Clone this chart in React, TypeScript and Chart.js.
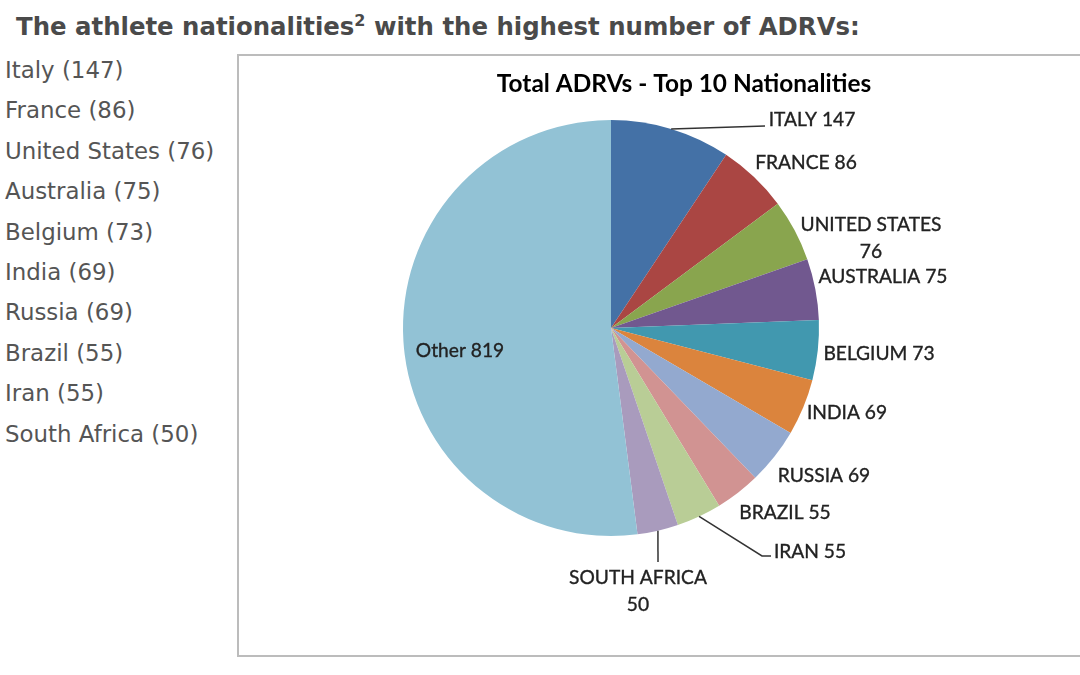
import { useEffect, useRef } from "react";
import { Chart, registerables, type Plugin } from "chart.js";

Chart.register(...registerables);

const HEADING_BEFORE = "The athlete nationalities";
const HEADING_AFTER = " with the highest number of ADRVs:";
const CHART_TITLE = "Total ADRVs - Top 10 Nationalities";

const CATEGORIES = [
  "Italy", "France", "United States", "Australia", "Belgium", "India",
  "Russia", "Brazil", "Iran", "South Africa", "Other",
];
const VALUES = [147, 86, 76, 75, 73, 69, 69, 55, 55, 50, 819];
const COLORS = [
  "#4471a6", "#aa4643", "#89a54e", "#71588f", "#4198af", "#db843d",
  "#93a9cf", "#d19392", "#b9cd96", "#a99bbd", "#92c2d5",
];

// label centres, one per slice (two-line labels wrap before the number)
const LABEL_X = [812, 806, 871, 883, 879, 847, 824, 785, 810, 638, 460];
const LABEL_Y = [120, 163, 225, 277, 354, 413, 476, 513, 552, 578, 351];
const WRAPPED = [2, 9];

const LABEL_FONT = "19.2px Lato";
const LABEL_COLOR = "#222";

// leader lines leave the slice at its mid angle, then run through these points
const LEADERS: { index: number; points: [number, number][] }[] = [
  { index: 0, points: [[765, 126]] },
  { index: 8, points: [[762, 556], [771, 556]] },
  { index: 9, points: [[658, 562]] },
];

const pieLabels: Plugin<"pie"> = {
  id: "pieLabels",
  afterDraw(chart) {
    const { ctx } = chart;
    const arcs = chart.getDatasetMeta(0).data as any[];
    ctx.save();

    ctx.strokeStyle = "#333";
    ctx.lineWidth = 1.5;
    for (const leader of LEADERS) {
      const arc = arcs[leader.index];
      const mid = (arc.startAngle + arc.endAngle) / 2;
      ctx.beginPath();
      ctx.moveTo(arc.x + Math.cos(mid) * arc.outerRadius, arc.y + Math.sin(mid) * arc.outerRadius);
      for (const [x, y] of leader.points) ctx.lineTo(x, y);
      ctx.stroke();
    }

    ctx.textAlign = "center";
    ctx.textBaseline = "middle";
    ctx.fillStyle = "#000";
    ctx.font = "bold 24.4px Lato";
    ctx.fillText(CHART_TITLE, 684, 84);

    ctx.fillStyle = LABEL_COLOR;
    ctx.strokeStyle = LABEL_COLOR;
    ctx.lineWidth = 0.35;
    ctx.font = LABEL_FONT;
    const put = (text: string, x: number, y: number) => {
      ctx.fillText(text, x, y);
      ctx.strokeText(text, x, y); // source labels read a little heavier than Lato regular
    };
    CATEGORIES.forEach((name, i) => {
      const text = i === 10 ? name : name.toUpperCase();
      if (WRAPPED.includes(i)) {
        put(text, LABEL_X[i], LABEL_Y[i]);
        put(String(VALUES[i]), LABEL_X[i], LABEL_Y[i] + 27);
      } else {
        put(`${text} ${VALUES[i]}`, LABEL_X[i], LABEL_Y[i]);
      }
    });
    ctx.restore();
  },
};

export default function App() {
  const canvasRef = useRef<HTMLCanvasElement>(null);

  useEffect(() => {
    if (!canvasRef.current) return;
    const chart = new Chart(canvasRef.current, {
      type: "pie",
      data: {
        labels: CATEGORIES,
        datasets: [{ data: VALUES, backgroundColor: COLORS, borderWidth: 0 }],
      },
      options: {
        responsive: false,
        animation: false,
        layout: { padding: { left: 403, right: 261, top: 120, bottom: 139 } },
        plugins: { legend: { display: false }, tooltip: { enabled: false } },
      },
      plugins: [pieLabels],
    });
    return () => chart.destroy();
  }, []);

  return (
    <div style={{ position: "fixed", inset: 0, width: 1080, height: 675, overflow: "hidden", background: "#fff", fontFamily: "'DejaVu Sans'", color: "#555" }}>
      <div style={{ position: "absolute", left: 16, top: 11, fontSize: 24.4, fontWeight: "bold", whiteSpace: "nowrap", color: "#4a4a4a", lineHeight: "32px" }}>
        {HEADING_BEFORE}
        <sup style={{ fontSize: 16, lineHeight: 0 }}>2</sup>
        {HEADING_AFTER}
      </div>
      <div style={{ position: "absolute", left: 5, top: 50, fontSize: 22.9, lineHeight: "40.4px", whiteSpace: "nowrap" }}>
        {CATEGORIES.slice(0, 10).map((name, i) => (
          <div key={name}>{`${name} (${VALUES[i]})`}</div>
        ))}
      </div>
      <div style={{ position: "absolute", left: 237, top: 54, width: 900, height: 599, border: "2px solid #bcbcbc" }} />
      <canvas ref={canvasRef} width={1080} height={675} style={{ position: "absolute", left: 0, top: 0 }} />
    </div>
  );
}
